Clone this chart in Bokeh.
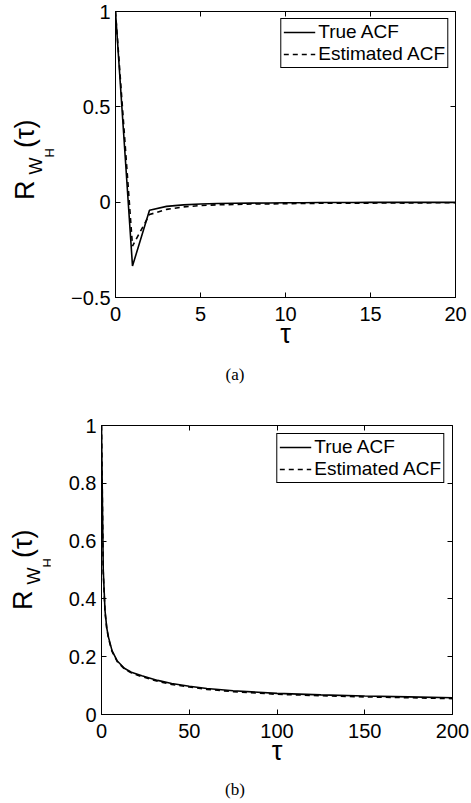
from bokeh.plotting import figure
from bokeh.models import LinearAxis, FixedTicker, Range1d, Div
from bokeh.layouts import column, row
from bokeh.embed import file_html
from bokeh.resources import INLINE

# ---------------- data ----------------
tau_a = [0, 1, 2, 3, 4, 5, 6, 7, 8, 9, 10, 11, 12, 13, 14, 15, 16, 17, 18, 19, 20]
true_a = [1.0, -0.335, -0.042, -0.022, -0.014, -0.010, -0.007, -0.006, -0.005, -0.004,
          -0.003, -0.003, -0.002, -0.002, -0.002, -0.001, -0.001, -0.001, -0.001, -0.001, -0.001]
est_a = [1.0, -0.23, -0.065, -0.038, -0.025, -0.018, -0.014, -0.012, -0.010, -0.009,
         -0.008, -0.007, -0.006, -0.006, -0.005, -0.005, -0.004, -0.005, -0.004, -0.003, -0.003]

tau_b = [0, 1, 2, 3, 4, 6, 9, 13, 17, 23, 32, 40, 50, 60, 75, 100, 125, 150, 175, 200]
true_b = [1.0, 0.50, 0.36, 0.30, 0.267, 0.221, 0.185, 0.160, 0.146, 0.134, 0.118, 0.107,
          0.098, 0.090, 0.082, 0.073, 0.068, 0.064, 0.061, 0.058]
est_b = [1.0, 0.49, 0.355, 0.297, 0.263, 0.218, 0.183, 0.158, 0.144, 0.131, 0.115, 0.104,
         0.095, 0.087, 0.079, 0.070, 0.065, 0.061, 0.058, 0.055]

xticks_a = [0, 5, 10, 15, 20]
yticks_a = [-0.5, 0, 0.5, 1]
ylabels_a = ["\u22120.5", "0", "0.5", "1"]
xticks_b = [0, 50, 100, 150, 200]
yticks_b = [0, 0.2, 0.4, 0.6, 0.8, 1]
ylabels_b = ["0", "0.2", "0.4", "0.6", "0.8", "1"]

series_names = ["True ACF", "Estimated ACF"]
captions = ["(a)", "(b)"]
ylabel_parts = ["R", "W", "H", "(\u03c4)"]
xlabel = "\u03c4"

FONT = "Liberation Sans"


def make_ylabel(width, height, left, top):
    r, w, h, t = ylabel_parts
    html = (
        f'<div style="position:relative;width:{width}px;height:{height}px;overflow:visible;">'
        f'<div style="position:absolute;left:{left}px;top:{top}px;transform-origin:0 0;'
        f'transform:rotate(-90deg);white-space:nowrap;font-family:\'{FONT}\';'
        f'font-size:27px;line-height:27px;color:black;">'
        f'<span style="padding-right:6px;">{r}</span>'
        f'<span style="font-size:18px;vertical-align:-8px;">{w}'
        f'<span style="font-size:13px;vertical-align:-12px;">{h}</span></span>'
        f'<span>{t}</span></div></div>'
    )
    return Div(text=html, width=width, height=height, margin=0)


def make_caption(text, width, height, line_h):
    html = (
        f'<div style="width:{width}px;height:{height}px;text-align:center;'
        f'font-family:\'Liberation Serif\';font-size:17px;line-height:{line_h}px;'
        f'color:black;">{text}</div>'
    )
    return Div(text=html, width=width, height=height, margin=0)


def make_panel(tau, true_v, est_v, xticks, yticks, ylabels, xr, yr,
               width, height, bl, br, bt, bb, leg_margin):
    p = figure(width=width, height=height, output_backend="svg", toolbar_location=None,
               x_range=Range1d(*xr), y_range=Range1d(*yr),
               min_border_left=bl, min_border_right=br, min_border_top=bt,
               min_border_bottom=bb)
    p.xgrid.visible = False
    p.ygrid.visible = False
    p.outline_line_color = "black"
    p.outline_line_alpha = 1.0
    p.outline_line_width = 1
    p.background_fill_color = "white"
    p.border_fill_color = "white"

    p.line(tau, true_v, line_color="black", line_width=1.6, legend_label=series_names[0])
    p.line(tau, est_v, line_color="black", line_width=1.6, line_dash="5 4",
           legend_label=series_names[1])

    xa = p.xaxis[0]
    ya = p.yaxis[0]
    xa.ticker = FixedTicker(ticks=xticks)
    ya.ticker = FixedTicker(ticks=yticks)
    ya.major_label_overrides = {t: s for t, s in zip(yticks, ylabels)}
    xa.major_label_overrides = {t: str(t) for t in xticks}
    for ax in (xa, ya):
        ax.major_tick_in = 5
        ax.major_tick_out = 0
        ax.minor_tick_in = 0
        ax.minor_tick_out = 0
        ax.axis_line_color = "black"
        ax.major_tick_line_color = "black"
        ax.major_label_text_font = FONT
        ax.major_label_text_font_size = "20px"
        ax.major_label_text_color = "black"
    xa.major_label_standoff = 9
    ya.major_label_standoff = 5
    xa.axis_label = xlabel
    xa.axis_label_text_font = FONT
    xa.axis_label_text_font_size = "27px"
    xa.axis_label_text_font_style = "normal"
    xa.axis_label_standoff = -5
    xa.axis_label_text_color = "black"

    top = LinearAxis(ticker=FixedTicker(ticks=xticks))
    right = LinearAxis(ticker=FixedTicker(ticks=yticks))
    top.major_label_overrides = {t: "" for t in xticks}
    right.major_label_overrides = {t: "" for t in yticks}
    for ax in (top, right):
        ax.major_tick_in = 5
        ax.major_tick_out = 0
        ax.minor_tick_in = 0
        ax.minor_tick_out = 0
        ax.major_label_text_font_size = "1px"
        ax.major_label_standoff = 0
        ax.axis_line_color = None
        ax.major_tick_line_color = "black"
    p.add_layout(top, "above")
    p.add_layout(right, "right")

    lg = p.legend[0]
    lg.location = "top_right"
    lg.margin = leg_margin
    lg.padding = 2
    lg.spacing = 0
    lg.border_line_color = "black"
    lg.border_line_width = 1
    lg.border_line_alpha = 1
    lg.background_fill_alpha = 1
    lg.label_text_font = FONT
    lg.label_text_font_size = "19px"
    lg.label_text_color = "black"
    lg.label_height = 20
    lg.glyph_height = 20
    lg.glyph_width = 32
    lg.label_standoff = 3
    return p


# top panel: frame left 115, right 455, top 11, bottom 297 (page pixels)
ya1 = make_ylabel(60, 355, 12, 200)
p1 = make_panel(tau_a, true_a, est_a, xticks_a, yticks_a, ylabels_a, (0, 20), (-0.5, 1),
                410, 355, 55, 15, 11, 58, 7)
cap1 = make_caption(captions[0], 470, 45, 40)

# bottom panel: frame left 101, right 452, top 425, bottom 714
ya2 = make_ylabel(50, 372, 10, 210)
p2 = make_panel(tau_b, true_b, est_b, xticks_b, yticks_b, ylabels_b, (0, 200), (0, 1),
                420, 372, 51, 18, 25, 58, 8)
cap2 = make_caption(captions[1], 470, 31, 36)

layout = column(row(ya1, p1, spacing=0), cap1, row(ya2, p2, spacing=0), cap2, spacing=0)
open("out.html", "w").write(file_html(layout, INLINE))
